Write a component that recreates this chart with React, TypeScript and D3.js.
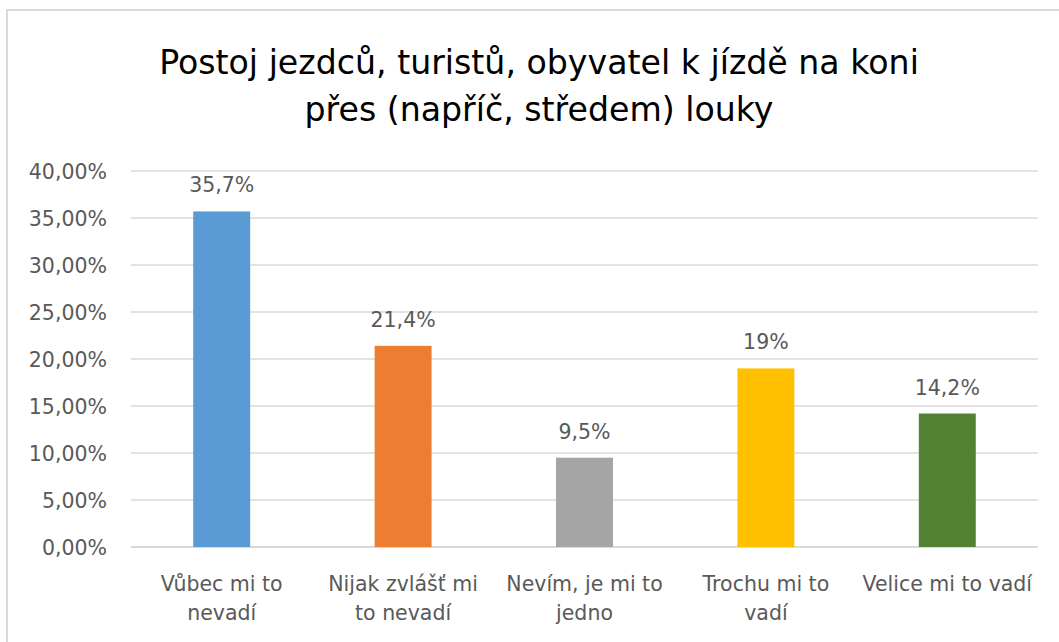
import React from "react";
import * as d3 from "d3";

const categories: string[][] = [
  ["Vůbec mi to", "nevadí"],
  ["Nijak zvlášť mi", "to nevadí"],
  ["Nevím, je mi to", "jedno"],
  ["Trochu mi to", "vadí"],
  ["Velice mi to vadí"],
];
const values: number[] = [35.7, 21.4, 9.5, 19, 14.2];
const valueLabels: string[] = ["35,7%", "21,4%", "9,5%", "19%", "14,2%"];
const colors: string[] = ["#5B9BD5", "#ED7D31", "#A5A5A5", "#FFC000", "#548235"];
const yTicks: number[] = [0, 5, 10, 15, 20, 25, 30, 35, 40];
const titleLines: string[] = [
  "Postoj jezdců, turistů, obyvatel k jízdě na koni",
  "přes (napříč, středem) louky",
];

const W = 1059;
const H = 642;
const FONT = "'DejaVu Sans', sans-serif";

export default function App() {
  const plotLeft = 131;
  const plotRight = 1038;
  const plotTop = 171;
  const plotBottom = 547;

  const x = d3
    .scaleBand<number>()
    .domain(values.map((_, i) => i))
    .range([plotLeft, plotRight])
    .paddingInner(0.686)
    .paddingOuter(0.343);
  const y = d3.scaleLinear().domain([0, 40]).range([plotBottom, plotTop]);

  const locale = d3.formatLocale({
    decimal: ",",
    thousands: " ",
    grouping: [3],
    currency: ["", " Kč"],
  });
  const fmt = locale.format(".2f");

  return (
    <svg
      width={W}
      height={H}
      style={{ position: "absolute", left: 0, top: 0, background: "#fff" }}
    >
      <rect x={0} y={0} width={W} height={H} fill="#fff" />
      <rect
        x={7}
        y={10}
        width={W + 20}
        height={H + 20}
        fill="none"
        stroke="#d9d9d9"
        strokeWidth={2}
      />
      {titleLines.map((t, i) => (
        <text
          key={i}
          x={539}
          y={74 + i * 47}
          textAnchor="middle"
          fontFamily={FONT}
          fontSize={33.2}
          fill="#000"
        >
          {t}
        </text>
      ))}
      {yTicks.map((t) => (
        <g key={t}>
          <line
            x1={plotLeft}
            x2={plotRight}
            y1={y(t)}
            y2={y(t)}
            stroke="#d9d9d9"
            strokeWidth={t === 0 ? 2 : 1.5}
          />
          <text
            x={107}
            y={y(t) + 7.5}
            textAnchor="end"
            fontFamily={FONT}
            fontSize={20.5}
            fill="#595959"
          >
            {fmt(t) + "%"}
          </text>
        </g>
      ))}
      {values.map((v, i) => (
        <g key={i}>
          <rect
            x={x(i)}
            y={y(v)}
            width={x.bandwidth()}
            height={y(0) - y(v)}
            fill={colors[i]}
          />
          <text
            x={(x(i) as number) + x.bandwidth() / 2}
            y={y(v) - 19}
            textAnchor="middle"
            fontFamily={FONT}
            fontSize={20.5}
            fill="#595959"
          >
            {valueLabels[i]}
          </text>
          {categories[i].map((line, j) => (
            <text
              key={j}
              x={(x(i) as number) + x.bandwidth() / 2}
              y={591 + j * 29}
              textAnchor="middle"
              fontFamily={FONT}
              fontSize={20.5}
              fill="#595959"
            >
              {line}
            </text>
          ))}
        </g>
      ))}
    </svg>
  );
}
